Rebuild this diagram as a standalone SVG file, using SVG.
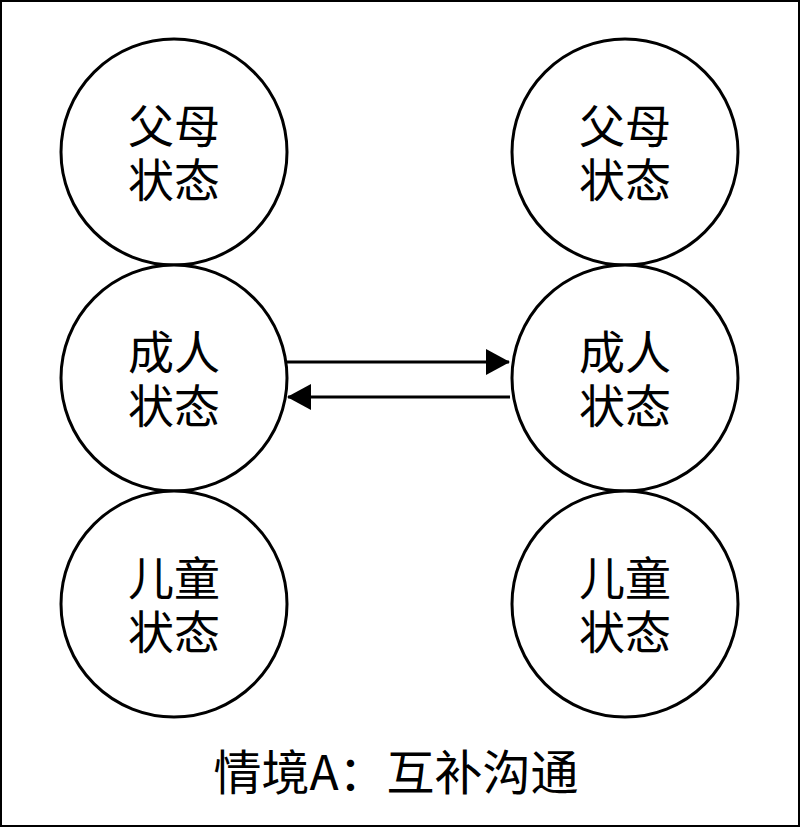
<svg xmlns="http://www.w3.org/2000/svg" width="800" height="827" viewBox="0 0 800 827">
<defs>
<style>
.st{fill:#fff;stroke:#000;stroke-width:3}
.lb{font-family:"Noto Sans CJK SC","Noto Sans",sans-serif;font-size:46px;fill:#000;text-anchor:middle}
.cn{stroke:#000;stroke-width:3;fill:none}
.cap{font-family:"Noto Sans CJK SC","Noto Sans",sans-serif;font-size:48px;fill:#000;text-anchor:middle}
</style>
<marker id="ah" markerWidth="24" markerHeight="26" refX="23" refY="13" orient="auto" markerUnits="userSpaceOnUse">
<path d="M0,0 L24,13 L0,26 Z" fill="#000"/>
</marker>
</defs>
<rect x="1" y="1" width="798" height="825" fill="#fff" stroke="#000" stroke-width="2"/>
<g id="L-parent"><circle class="st" cx="174" cy="152" r="113"/><text class="lb"><tspan x="174" y="143">父母</tspan><tspan x="174" y="197">状态</tspan></text></g>
<g id="L-adult"><circle class="st" cx="174" cy="378" r="113"/><text class="lb"><tspan x="174" y="369">成人</tspan><tspan x="174" y="423">状态</tspan></text></g>
<g id="L-child"><circle class="st" cx="174" cy="604" r="113"/><text class="lb"><tspan x="174" y="595">儿童</tspan><tspan x="174" y="649">状态</tspan></text></g>
<g id="R-parent"><circle class="st" cx="625" cy="152" r="113"/><text class="lb"><tspan x="625" y="143">父母</tspan><tspan x="625" y="197">状态</tspan></text></g>
<g id="R-adult"><circle class="st" cx="625" cy="378" r="113"/><text class="lb"><tspan x="625" y="369">成人</tspan><tspan x="625" y="423">状态</tspan></text></g>
<g id="R-child"><circle class="st" cx="625" cy="604" r="113"/><text class="lb"><tspan x="625" y="595">儿童</tspan><tspan x="625" y="649">状态</tspan></text></g>
<g id="connectors">
<line class="cn" x1="287" y1="362" x2="509" y2="362" marker-end="url(#ah)"/>
<line class="cn" x1="510" y1="397" x2="288" y2="397" marker-end="url(#ah)"/>
</g>
<text class="cap" x="396" y="790">情境A：互补沟通</text>
</svg>
